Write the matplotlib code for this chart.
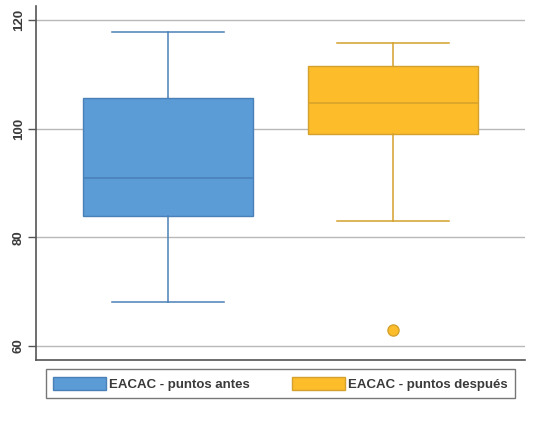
#!/usr/bin/env python3
"""
EACAC 前後分數箱形圖
"""

import matplotlib
matplotlib.use('Agg')
import matplotlib.pyplot as plt
from matplotlib.patches import Patch

plt.rcParams['font.family'] = ['Liberation Sans', 'DejaVu Sans']

# 資料
labels = ['EACAC - puntos antes', 'EACAC - puntos después']
whisker_low = [68, 83]
q1 = [84, 99.1]
median = [91, 104.8]
q3 = [105.6, 111.6]
whisker_high = [117.8, 115.7]
outliers = [[], [63]]
y_ticks = [60, 80, 100, 120]

fill_colors = ['#5b9bd6', '#fdbd2b']
edge_colors = ['#4a80b8', '#d4a12c']
text_color = '#3a3a3a'

fig = plt.figure(figsize=(5.36, 4.29), dpi=100)
ax = fig.add_axes([36 / 536, 69 / 429, 489 / 536, 354 / 429])

stats = []
for i in range(len(labels)):
    stats.append({
        'whislo': whisker_low[i], 'q1': q1[i], 'med': median[i],
        'q3': q3[i], 'whishi': whisker_high[i], 'fliers': outliers[i],
    })

# 格線放在箱子後面
for y in y_ticks:
    ax.axhline(y, color='#b8b8b8', linewidth=1.0, zorder=0)

for i, s in enumerate(stats):
    ec = edge_colors[i]
    ax.bxp([s], positions=[i + 1], widths=0.755, patch_artist=True,
           showfliers=True,
           boxprops=dict(facecolor=fill_colors[i], edgecolor=ec, linewidth=1.0),
           medianprops=dict(color=ec, linewidth=1.1),
           whiskerprops=dict(color=ec, linewidth=1.1),
           capprops=dict(color=ec, linewidth=1.1),
           capwidths=0.5,
           flierprops=dict(marker='o', markerfacecolor=fill_colors[i],
                           markeredgecolor=ec, markersize=8))

ax.set_xlim(0.413, 2.587)
ax.set_ylim(57.4, 122.6)
ax.set_xticks([])
ax.set_yticks(y_ticks)
ax.set_yticklabels([str(t) for t in y_ticks], rotation=90, va='center',
                   fontsize=9.5, fontweight='bold', color=text_color)
ax.tick_params(axis='y', length=6, width=1.0, color='#555555', pad=2)

for side in ['top', 'right']:
    ax.spines[side].set_visible(False)
for side in ['left', 'bottom']:
    ax.spines[side].set_color('#555555')
    ax.spines[side].set_linewidth(1.2)

# 圖例
handles = [Patch(facecolor=fill_colors[i], edgecolor=edge_colors[i])
           for i in range(len(labels))]
leg = fig.legend(handles, labels, loc='lower left',
                 bbox_to_anchor=(46 / 536, 31 / 429, 469 / 536, 29 / 429),
                 mode='expand', ncol=2, frameon=True, fancybox=False,
                 handlelength=4.0, handleheight=1.2, handletextpad=0.25,
                 borderpad=0.55, borderaxespad=0, columnspacing=2.0,
                 prop=dict(size=9.5, weight='bold'))
leg.get_frame().set_edgecolor('#555555')
leg.get_frame().set_linewidth(1.0)
for t in leg.get_texts():
    t.set_color(text_color)

fig.savefig('out.png', dpi=100)
